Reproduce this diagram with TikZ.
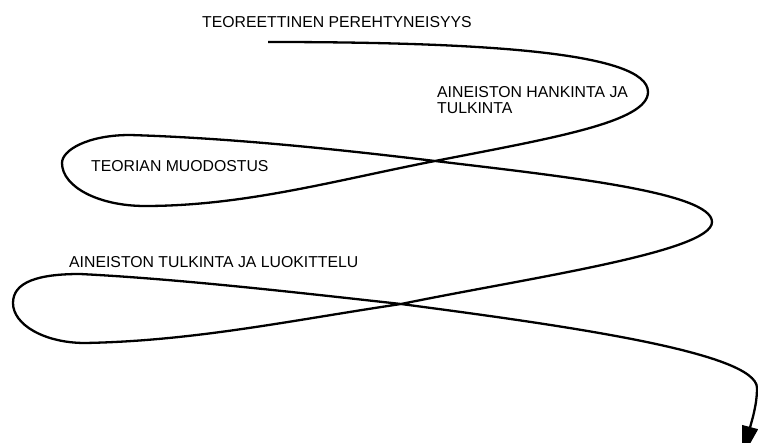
\documentclass[tikz,border=0pt]{standalone}
\usepackage{fontspec}
\setmainfont{Liberation Sans}
\usetikzlibrary{arrows.meta}

\begin{document}
\begin{tikzpicture}[
  x=1pt, y=1pt,
  phase/.style={anchor=north west, inner sep=0pt, align=left,
    font=\fontsize{15.8}{16}\selectfont},
  spiral/.style={line width=2.3pt, -{Triangle[length=32pt,width=16pt]}}]
  \useasboundingbox (0,0) rectangle (758,-443);
  % phases of the process
  \node[phase] (theory) at (202,-16) {TEOREETTINEN PEREHTYNEISYYS};
  \node[phase] (gather) at (437,-86) {AINEISTON HANKINTA JA\\TULKINTA};
  \node[phase] (forming) at (91,-160) {TEORIAN MUODOSTUS};
  \node[phase] (classify) at (69,-256) {AINEISTON TULKINTA JA LUOKITTELU};
  % turning points of the spiral
  \coordinate (start) at (268,-42);
  \coordinate (turn1) at (648,-92);
  \coordinate (cross1) at (435,-161);
  \coordinate (low1) at (145,-206);
  \coordinate (left1) at (62,-163);
  \coordinate (top1) at (130,-135);
  \coordinate (turn2) at (712,-222);
  \coordinate (cross2) at (401,-304);
  \coordinate (low2) at (85,-343);
  \coordinate (left2) at (13,-303);
  \coordinate (top2) at (80,-274);
  \coordinate (turn3) at (757,-388);
  \coordinate (tip) at (742,-458);
  \draw[spiral] (start) .. controls (480,-42) and (648,-52) .. (turn1)
    .. controls (648,-122) and (553,-138) .. (cross1)
    .. controls (337,-180) and (245,-206) .. (low1)
    .. controls (99,-206) and (62,-187) .. (left1)
    .. controls (62,-150) and (88,-135) .. (top1)
    .. controls (230,-138) and (335,-149) .. (cross1)
    .. controls (560,-176) and (712,-192) .. (turn2)
    .. controls (712,-252) and (528,-278) .. (cross2)
    .. controls (293,-320) and (195,-341) .. (low2)
    .. controls (45,-343) and (13,-325) .. (left2)
    .. controls (13,-282) and (38,-274) .. (top2)
    .. controls (180,-279) and (301,-293) .. (cross2)
    .. controls (560,-325) and (757,-352) .. (turn3)
    .. controls (757,-405) and (752,-420) .. (tip);
\end{tikzpicture}
\end{document}
